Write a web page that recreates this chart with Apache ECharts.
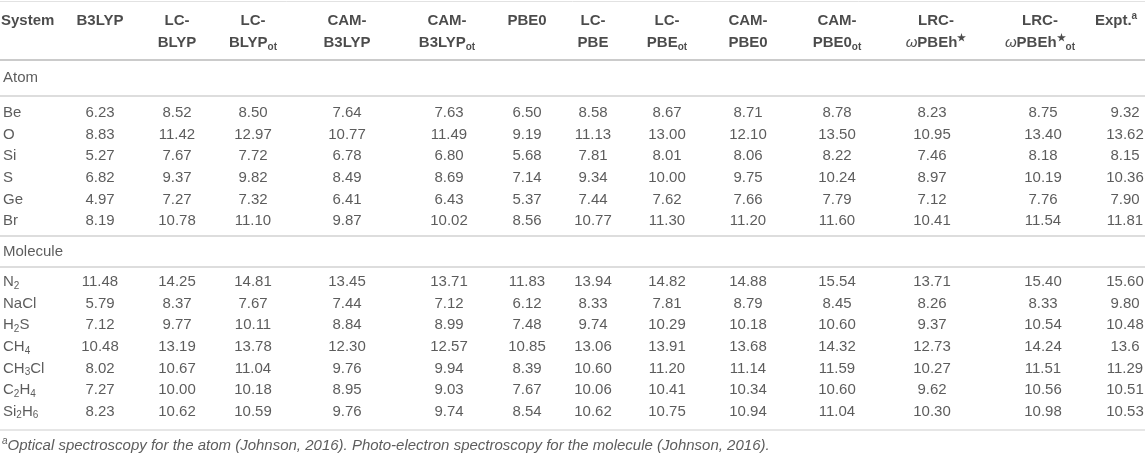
<!DOCTYPE html>
<html><head><meta charset="utf-8">
<script src="https://cdn.jsdelivr.net/npm/echarts@6/dist/echarts.min.js"></script>
<style>html,body{margin:0;padding:0;background:#fff}#c{width:1145px;height:456px}</style>
</head><body><div id="c"></div>
<script>
// ---- table content ----
const headerLabels = ['System', 'B3LYP', 'LC-\nBLYP', 'LC-\nBLYP{sub|ot}', 'CAM-\nB3LYP', 'CAM-\nB3LYP{sub|ot}',
  'PBE0', 'LC-\nPBE', 'LC-\nPBE{sub|ot}', 'CAM-\nPBE0', 'CAM-\nPBE0{sub|ot}',
  'LRC-\n{w|ω}PBEh{sup|★}', 'LRC-\n{w|ω}PBEh{sup|★}{sub|ot}', 'Expt.{sup|a}'];
const sectionTitles = ['Atom', 'Molecule'];
const atomSystems = ['Be', 'O', 'Si', 'S', 'Ge', 'Br'];
const moleculeSystems = ['N{sub|2}', 'NaCl', 'H{sub|2}S', 'CH{sub|4}', 'CH{sub|3}Cl', 'C{sub|2}H{sub|4}', 'Si{sub|2}H{sub|6}'];

const rowBe    = ['6.23', '8.52', '8.50', '7.64', '7.63', '6.50', '8.58', '8.67', '8.71', '8.78', '8.23', '8.75', '9.32'];
const rowO     = ['8.83', '11.42', '12.97', '10.77', '11.49', '9.19', '11.13', '13.00', '12.10', '13.50', '10.95', '13.40', '13.62'];
const rowSi    = ['5.27', '7.67', '7.72', '6.78', '6.80', '5.68', '7.81', '8.01', '8.06', '8.22', '7.46', '8.18', '8.15'];
const rowS     = ['6.82', '9.37', '9.82', '8.49', '8.69', '7.14', '9.34', '10.00', '9.75', '10.24', '8.97', '10.19', '10.36'];
const rowGe    = ['4.97', '7.27', '7.32', '6.41', '6.43', '5.37', '7.44', '7.62', '7.66', '7.79', '7.12', '7.76', '7.90'];
const rowBr    = ['8.19', '10.78', '11.10', '9.87', '10.02', '8.56', '10.77', '11.30', '11.20', '11.60', '10.41', '11.54', '11.81'];
const rowN2    = ['11.48', '14.25', '14.81', '13.45', '13.71', '11.83', '13.94', '14.82', '14.88', '15.54', '13.71', '15.40', '15.60'];
const rowNaCl  = ['5.79', '8.37', '7.67', '7.44', '7.12', '6.12', '8.33', '7.81', '8.79', '8.45', '8.26', '8.33', '9.80'];
const rowH2S   = ['7.12', '9.77', '10.11', '8.84', '8.99', '7.48', '9.74', '10.29', '10.18', '10.60', '9.37', '10.54', '10.48'];
const rowCH4   = ['10.48', '13.19', '13.78', '12.30', '12.57', '10.85', '13.06', '13.91', '13.68', '14.32', '12.73', '14.24', '13.6'];
const rowCH3Cl = ['8.02', '10.67', '11.04', '9.76', '9.94', '8.39', '10.60', '11.20', '11.14', '11.59', '10.27', '11.51', '11.29'];
const rowC2H4  = ['7.27', '10.00', '10.18', '8.95', '9.03', '7.67', '10.06', '10.41', '10.34', '10.60', '9.62', '10.56', '10.51'];
const rowSi2H6 = ['8.23', '10.62', '10.59', '9.76', '9.74', '8.54', '10.62', '10.75', '10.94', '11.04', '10.30', '10.98', '10.53'];
const atomRows = [rowBe, rowO, rowSi, rowS, rowGe, rowBr];
const moleculeRows = [rowN2, rowNaCl, rowH2S, rowCH4, rowCH3Cl, rowC2H4, rowSi2H6];
const footnote = '{sup|a}Optical spectroscopy for the atom (Johnson, 2016). Photo-electron spectroscopy for the molecule (Johnson, 2016).';

// ---- layout (table geometry in axis units = pixels) ----
const colX = [3, 100, 177, 253, 347, 449, 527, 593, 667, 748, 837, 932, 1043, 1125];
const headerX = [1, 100, 177, 253, 347, 447, 527, 593, 667, 748, 837, 936, 1040, 1116];
const headerTop = 10;
const sectionY = [78, 252];
const firstRowY = [113, 282];
const rowStep = 21.6;
const footY = 446;
const rules = [
  {y: 1, w: 1, c: '#e2e2e2'},
  {y: 60, w: 2, c: '#cbcbcb'},
  {y: 96, w: 1.5, c: '#d2d2d2'},
  {y: 235.5, w: 1.5, c: '#d2d2d2'},
  {y: 267, w: 1.5, c: '#d2d2d2'},
  {y: 430, w: 1.5, c: '#dedede'}
];

const FONT = 'Liberation Sans';
function rich(weight, style, color) {
  const base = {fontFamily: FONT, fontWeight: weight, fontStyle: style, color: color, fontSize: 15, lineHeight: 22};
  return {
    sub: Object.assign({}, base, {fontSize: 10, padding: [8, 0, 0, 0]}),
    sup: Object.assign({}, base, {fontSize: 10, padding: [0, 0, 9, 0]}),
    w: Object.assign({}, base, {fontWeight: 'normal', fontStyle: 'italic'})
  };
}

// build label data
const headerData = headerLabels.map((t, i) => ({name: t, value: [headerX[i], headerTop], label: {align: i === 0 ? 'left' : 'center'}}));
const sectionData = sectionTitles.map((t, i) => ({name: t, value: [colX[0], sectionY[i]]}));
const systemData = [];
const cellData = [];
[[atomSystems, atomRows], [moleculeSystems, moleculeRows]].forEach(([names, rows], s) => {
  names.forEach((nm, r) => {
    const y = firstRowY[s] + r * rowStep;
    systemData.push({name: nm, value: [colX[0], y]});
    rows[r].forEach((v, c) => cellData.push({name: v, value: [colX[c + 1], y]}));
  });
});

const textSeries = (data, lab) => ({
  type: 'scatter', symbolSize: 0, silent: true, animation: false,
  itemStyle: {color: 'rgba(0,0,0,0)'},
  data: data,
  label: Object.assign({show: true, position: 'inside', formatter: p => p.name,
    fontFamily: FONT, fontSize: 15, lineHeight: 22, verticalAlign: 'middle'}, lab)
});

const chart = echarts.init(document.getElementById('c'), null, {renderer: 'canvas'});
chart.setOption({
  animation: false,
  backgroundColor: '#ffffff',
  grid: {left: 0, right: 0, top: 0, bottom: 0},
  xAxis: {type: 'value', min: 0, max: 1145, show: false},
  yAxis: {type: 'value', min: 0, max: 456, inverse: true, show: false},
  series: [
    Object.assign(textSeries(headerData, {fontWeight: 'bold', color: '#1e1e1e', align: 'center', verticalAlign: 'top', rich: rich('bold', 'normal', '#1e1e1e')}), {
      markLine: {
        silent: true, symbol: 'none', animation: false, label: {show: false},
        data: rules.map(r => ({yAxis: r.y, lineStyle: {color: r.c, width: r.w, type: 'solid'}}))
      }
    }),
    textSeries(sectionData, {color: '#333', align: 'left', rich: rich('normal', 'normal', '#333')}),
    textSeries(systemData, {color: '#333', align: 'left', rich: rich('normal', 'normal', '#333')}),
    textSeries(cellData, {color: '#333', align: 'center', rich: rich('normal', 'normal', '#333')}),
    textSeries([{name: footnote, value: [colX[0] - 1, footY]}], {color: '#333', align: 'left', fontStyle: 'italic', rich: rich('normal', 'italic', '#333')})
  ]
});
</script>
</body></html>
